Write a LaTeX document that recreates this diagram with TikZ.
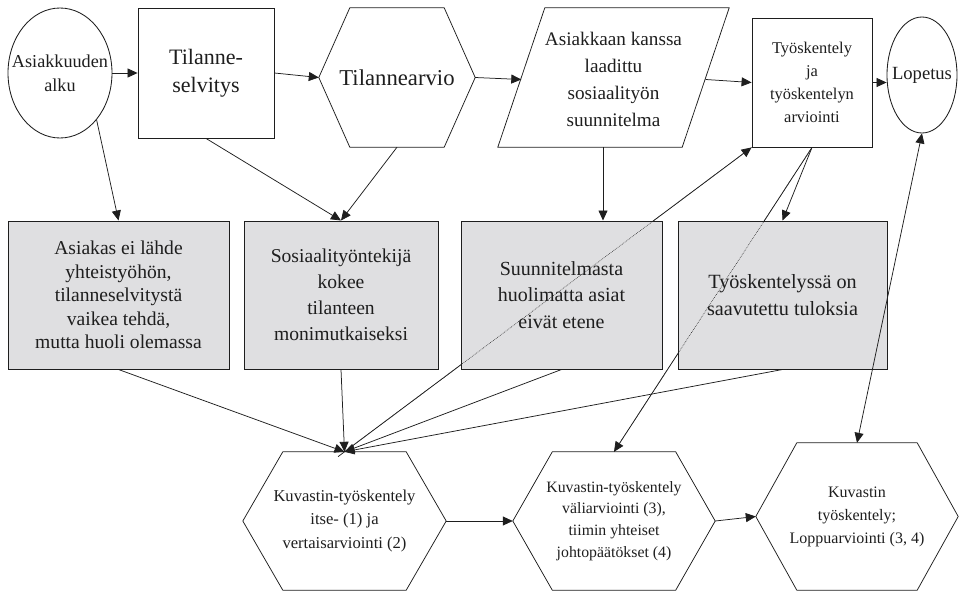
\documentclass[tikz,border=0pt]{standalone}
\usepackage{fontspec}
\setmainfont{Liberation Serif}
\usetikzlibrary{arrows.meta,shapes.geometric,calc}

\definecolor{boxgray}{HTML}{DFDFE1}
\definecolor{ink}{HTML}{1E1E1E}

% outline of a flat hexagon laid over the (invisible) rectangle node #1,
% with the top and bottom edges inset by #2 on each side
\newcommand\hexoutline[2]{%
  \draw[wire] (#1.west) -- ([xshift=#2]#1.north west) -- ([xshift=-#2]#1.north east)
    -- (#1.east) -- ([xshift=-#2]#1.south east) -- ([xshift=#2]#1.south west) -- cycle;}

\begin{document}
\begin{tikzpicture}[x=1pt,y=-1pt,
  >={Triangle[length=10pt,width=9pt]},
  wire/.style={draw=ink, line width=0.75pt},
  flow/.style={wire, ->},
  frame/.style={draw=ink, line width=0.85pt, fill=white, inner sep=0pt, align=center, text=ink},
  greybox/.style={frame, fill=boxgray, line width=1pt},
  textonly/.style={inner sep=0pt, align=center, text=ink},
  oval/.style={frame, ellipse},
  fs/.style 2 args={font=\fontsize{#1}{#2}\selectfont},
]
\useasboundingbox (0,0) rectangle (961,591);

% ---- top row ----
\node[oval, minimum width=104, minimum height=130] (e1) at (60,73) {};
\node[textonly, fs={18.2}{24}] (e1t) at (e1) {Asiakkuuden\\alku};

\node[frame, minimum width=136, minimum height=130, fs={22}{28}] (t1) at (206,73) {Tilanne-\\selvitys};

\node[textonly, minimum width=156, minimum height=139, fs={22.7}{27}] (hx) at (397,77.5) {Tilannearvio};
\hexoutline{hx}{31}

\node[textonly, minimum width=231, minimum height=139, fs={19.2}{27}] (pg) at (613.5,79.5)
  {Asiakkaan kanssa\\laadittu\\sosiaalityön\\suunnitelma};
\draw[wire] ([xshift=47,yshift=2]pg.north west) -- ([yshift=2]pg.north east)
  -- ([xshift=-47,yshift=2]pg.south east) -- ([yshift=2]pg.south west) -- cycle;

\node[frame, minimum width=120, minimum height=129, fs={16.4}{23}] (w) at (812,82.5)
  {Työskentely\\ja\\työskentelyn\\arviointi};

\node[oval, minimum width=70, minimum height=116] (lo) at (922,75) {};
\node[textonly, fs={18.6}{22}] (lot) at (lo) {Lopetus};

% ---- bottom row ----
\node[textonly, minimum width=203, minimum height=138, fs={16.6}{23.5}] (h1) at (344.5,521)
  {Kuvastin-työskentely\\itse- (1) ja\\vertaisarviointi (2)};
\hexoutline{h1}{40}

\node[textonly, minimum width=202, minimum height=138, fs={15.8}{21.7}] (h2) at (614,521)
  {Kuvastin-työskentely\\väliarviointi (3),\\tiimin yhteiset\\johtopäätökset (4)};
\hexoutline{h2}{39.5}

\node[textonly, minimum width=202, minimum height=147, fs={16}{23}] (h3) at (857,516.5)
  {Kuvastin\\työskentely;\\Loppuarviointi (3, 4)};
\hexoutline{h3}{41}

% ---- long diagonals that run underneath the grey boxes ----
\draw[flow, shorten <=-8pt] (h1.north) -- (w.south west);
\draw[flow] (w.south) -- (h2.north);

% ---- middle row ----
\node[greybox, minimum width=221, minimum height=148, fs={19.6}{23.5}] (b1) at (118.5,295)
  {Asiakas ei lähde\\yhteistyöhön,\\tilanneselvitystä\\vaikea tehdä,\\mutta huoli olemassa};
\node[greybox, minimum width=194, minimum height=148, fs={19.6}{26}] (b2) at (341,295)
  {Sosiaalityöntekijä\\kokee\\tilanteen\\monimutkaiseksi};
\node[greybox, minimum width=201, minimum height=148, fs={20}{26.5}] (b3) at (561.5,295)
  {Suunnitelmasta\\huolimatta asiat\\eivät etene};
\node[greybox, minimum width=209, minimum height=148, fs={20.2}{27}] (b4) at (782.5,295)
  {Työskentelyssä on\\saavutettu tuloksia};

% faint trace of the diagonals across the grey boxes
\draw[wire, densely dotted, line width=0.5pt] (h1.north) -- (w.south west);
\draw[wire, densely dotted, line width=0.5pt] (w.south) -- (h2.north);

% ---- connectors ----
\draw[flow] (e1.east) -- (t1.west);
\draw[flow] (t1.east) -- (hx.west);
\draw[flow] (hx.east) -- ([xshift=23.5]pg.west);
\draw[flow] ([xshift=-23.5]pg.east) -- (w.west);
\draw[flow] (w.east) -- (w.east -| lo.west);

\draw[flow] (e1.-52) -- (b1.north);
\draw[flow] (t1.south) -- (b2.north);
\draw[flow] (hx.south) -- (b2.north);
\coordinate (pfoot) at ([xshift=-10.5,yshift=2]pg.south);
\draw[flow] (pfoot) -- (pfoot |- b3.north);
\draw[flow] (w.south) -- (b4.north);
\draw[wire, <->] (lo.south) -- (h3.north);

\draw[flow] (b1.south) -- (h1.north);
\draw[flow] (b2.south) -- (h1.north);
\draw[flow] (b3.south) -- (h1.north);
\draw[flow] (b4.south) -- (h1.north);
\draw[flow] (h1.east) -- (h2.west);
\draw[flow] (h2.east) -- (h3.west);
\end{tikzpicture}
\end{document}
